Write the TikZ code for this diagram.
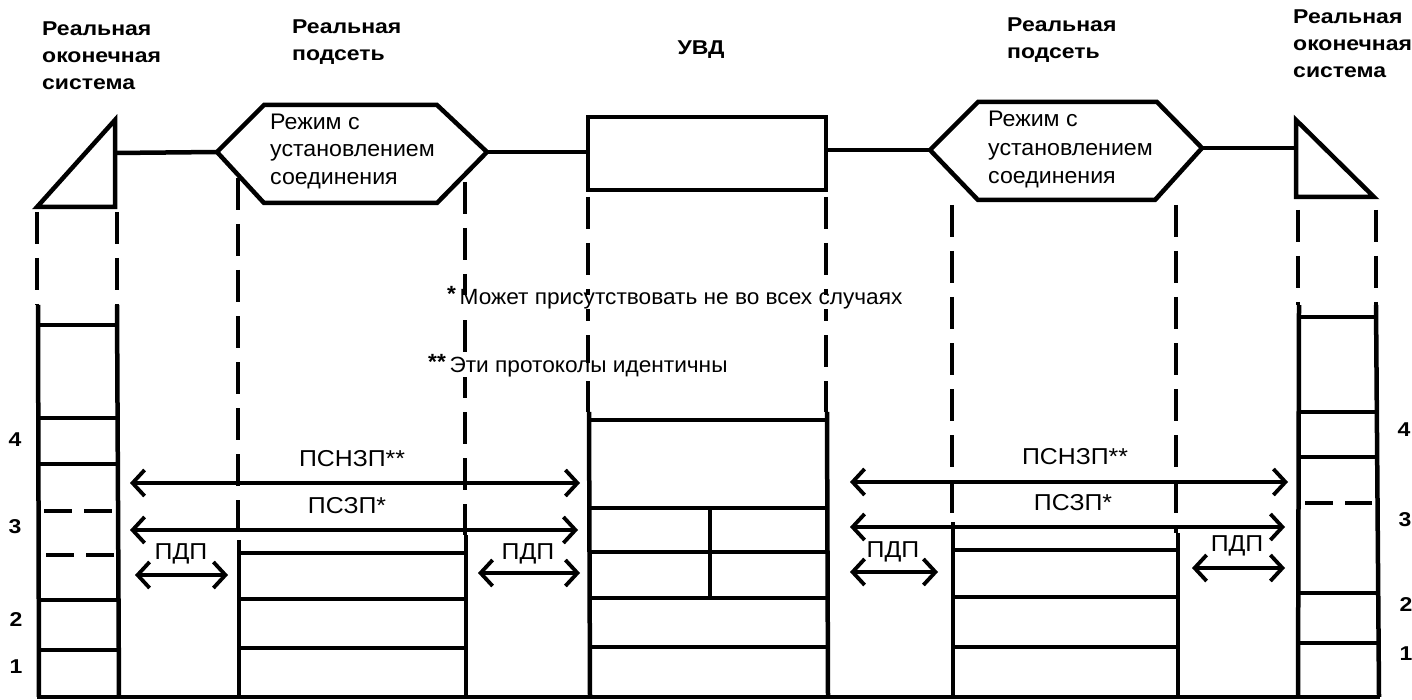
\documentclass[tikz,border=0pt]{standalone}
\usepackage{fontspec}
\setmainfont{Liberation Sans}
\newfontfamily\hdrfont[FakeStretch=1.15]{Liberation Sans}
\newfontfamily\bodyfont[FakeStretch=1.03]{Liberation Sans}
\newfontfamily\lblfont[FakeStretch=1.08]{Liberation Sans}
\usetikzlibrary{arrows.meta}
\begin{document}
\begin{tikzpicture}[x=1pt,y=-1pt,
  ln/.style={line width=4.5pt,line cap=butt},
  dl/.style={line width=4.5pt,dash pattern=on 32pt off 14pt},
  barb/.tip={Straight Barb[length=12pt,width=26pt,line width=3.8pt]},
  arr/.style={line width=3.8pt,barb-barb},
  hdr/.style={anchor=west,inner sep=0pt,font=\hdrfont\fontsize{20}{20}\selectfont\bfseries,text height=0.52em,text depth=0pt},
  txt/.style={anchor=west,inner sep=0pt,font=\bodyfont\fontsize{22.5}{22.5}\selectfont,text height=0.52em,text depth=0pt},
  lbl/.style={inner sep=0pt,font=\lblfont\fontsize{23}{23}\selectfont,text height=0.72em,text depth=0pt},
  num/.style={inner sep=0pt,font=\hdrfont\fontsize{20}{20}\selectfont\bfseries,text height=0.72em,text depth=0pt},
  note/.style={anchor=west,inner sep=2pt,fill=white,font=\bodyfont\fontsize{22}{22}\selectfont,text height=0.72em,text depth=0.2em}
]
\useasboundingbox (0,0) rectangle (1412,700);

% ---------- headers ----------
\node[hdr] (h1a) at (42,33) {Реальная};
\node[hdr] (h1b) at (42,60) {оконечная};
\node[hdr] (h1c) at (42,87) {система};
\node[hdr] (h2a) at (292,31) {Реальная};
\node[hdr] (h2b) at (292,58) {подсеть};
\node[hdr,anchor=center] (h3) at (701,52) {УВД};
\node[hdr] (h4a) at (1007,29) {Реальная};
\node[hdr] (h4b) at (1007,56) {подсеть};
\node[hdr] (h5a) at (1293,21) {Реальная};
\node[hdr] (h5b) at (1293,48) {оконечная};
\node[hdr] (h5c) at (1293,75) {система};

% ---------- top shapes ----------
\coordinate (t1a) at (115,120);
\coordinate (t1b) at (115,207);
\coordinate (t1c) at (37,207);
\draw[ln,line join=miter] (t1c) -- (t1a) -- (t1b) -- cycle;
\coordinate (x1l) at (217,152);
\coordinate (x1r) at (487,152);
\draw[ln,line join=miter] (x1l) -- (264,105) -- (437,105) -- (x1r) -- (437,203) -- (264,203) -- cycle;
\node[txt] (x1t1) at (270,127) {Режим с};
\node[txt] (x1t2) at (270,154) {установлением};
\node[txt] (x1t3) at (270,182) {соединения};
\coordinate (ul) at (588,152);
\coordinate (ur) at (826,150);
\draw[ln] (588,117) rectangle (826,190);
\coordinate (x2l) at (930,150);
\coordinate (x2r) at (1202,148);
\draw[ln,line join=miter] (x2l) -- (978,102) -- (1157,102) -- (x2r) -- (1155,200) -- (978,200) -- cycle;
\node[txt] (x2t1) at (988,124) {Режим с};
\node[txt] (x2t2) at (988,153) {установлением};
\node[txt] (x2t3) at (988,181) {соединения};
\coordinate (t2a) at (1296,120);
\coordinate (t2b) at (1296,197);
\coordinate (t2c) at (1374,197);
\draw[ln,line join=miter] (t2a) -- (t2b) -- (t2c) -- cycle;
\draw[ln] (115,153) -- (x1l);
\draw[ln] (x1r) -- (ul);
\draw[ln] (ur) -- (x2l);
\draw[ln] (x2r) -- (1296,148);

% ---------- dashed verticals ----------
\draw[dl] (37,212) -- (37,305);
\draw[dl] (117,212) -- (117,305);
\draw[dl] (238,178) -- (238,540);
\draw[dl] (465,182) -- (465,535);
\draw[dl] (588,197) -- (588,412);
\draw[dl] (826,197) -- (826,412);
\draw[dl] (952,205) -- (952,522);
\draw[dl] (1176,205) -- (1176,533);
\draw[dl] (1298,210) -- (1298,305);
\draw[dl] (1376,210) -- (1376,305);

% ---------- stacks ----------
\draw[ln] (38,305) -- (39,697);
\draw[ln] (117,305) -- (119,697);
\foreach \yy in {325,418,464,600,650}{\draw[ln] (38,\yy) -- (118,\yy);}
\draw[ln,dash pattern=on 28pt off 12pt] (44,511) -- (112,511);
\draw[ln,dash pattern=on 28pt off 12pt] (46,555) -- (114,555);
\draw[ln] (239,540) -- (239,697);
\draw[ln] (466,535) -- (466,697);
\foreach \yy in {553,599,648}{\draw[ln] (239,\yy) -- (466,\yy);}
\draw[ln] (589,412) -- (590,697);
\draw[ln] (827,412) -- (828,697);
\foreach \yy in {420,508,552,598,647}{\draw[ln] (589,\yy) -- (828,\yy);}
\draw[ln] (710,508) -- (710,598);
\draw[ln] (953,522) -- (953,697);
\draw[ln] (1178,533) -- (1178,697);
\foreach \yy in {550,597,647}{\draw[ln] (953,\yy) -- (1178,\yy);}
\draw[ln] (1299,305) -- (1298,697);
\draw[ln] (1376,305) -- (1379,697);
\foreach \yy in {317,412,457,593,643}{\draw[ln] (1299,\yy) -- (1378,\yy);}
\draw[ln,dash pattern=on 28pt off 12pt] (1305,503) -- (1372,503);
\draw[ln] (37,697) -- (1380,697);

% ---------- layer numbers ----------
\node[num] (nl4) at (15,443) {4};
\node[num] (nl3) at (15,530) {3};
\node[num] (nl2) at (16,623) {2};
\node[num] (nl1) at (16,670) {1};
\node[num] (nr4) at (1404,433) {4};
\node[num] (nr3) at (1405,523) {3};
\node[num] (nr2) at (1406,608) {2};
\node[num] (nr1) at (1406,657) {1};

% ---------- arrows ----------
\coordinate (a1l) at (130,483); \coordinate (a1r) at (580,483);
\coordinate (a2l) at (130,530); \coordinate (a2r) at (578,530);
\coordinate (a3l) at (135,575); \coordinate (a3r) at (228,575);
\coordinate (a4l) at (478,573); \coordinate (a4r) at (580,573);
\coordinate (b1l) at (850,482); \coordinate (b1r) at (1288,482);
\coordinate (b2l) at (850,527); \coordinate (b2r) at (1285,527);
\coordinate (b3l) at (850,572); \coordinate (b3r) at (938,572);
\coordinate (b4l) at (1192,568); \coordinate (b4r) at (1285,568);
\draw[arr] (a1l) -- (a1r);
\draw[arr] (a2l) -- (a2r);
\draw[arr] (a3l) -- (a3r);
\draw[arr] (a4l) -- (a4r);
\draw[arr] (b1l) -- (b1r);
\draw[arr] (b2l) -- (b2r);
\draw[arr] (b3l) -- (b3r);
\draw[arr] (b4l) -- (b4r);
\node[lbl] (la1) at (352,463) {ПСНЗП**};
\node[lbl] (la2) at (347,510) {ПСЗП*};
\node[lbl] (la3) at (181,556) {ПДП};
\node[lbl] (la4) at (528,556) {ПДП};
\node[lbl] (lb1) at (1075,461) {ПСНЗП**};
\node[lbl] (lb2) at (1073,507) {ПСЗП*};
\node[lbl] (lb3) at (893,554) {ПДП};
\node[lbl] (lb4) at (1237,548) {ПДП};

% ---------- footnotes ----------
\node[note] (f1) at (445,302) {\raisebox{3pt}{\bfseries *}\,Может присутствовать не во всех случаях};
\node[note] (f2) at (426,370) {\raisebox{3pt}{\bfseries **}\,Эти протоколы идентичны};
\end{tikzpicture}
\end{document}
